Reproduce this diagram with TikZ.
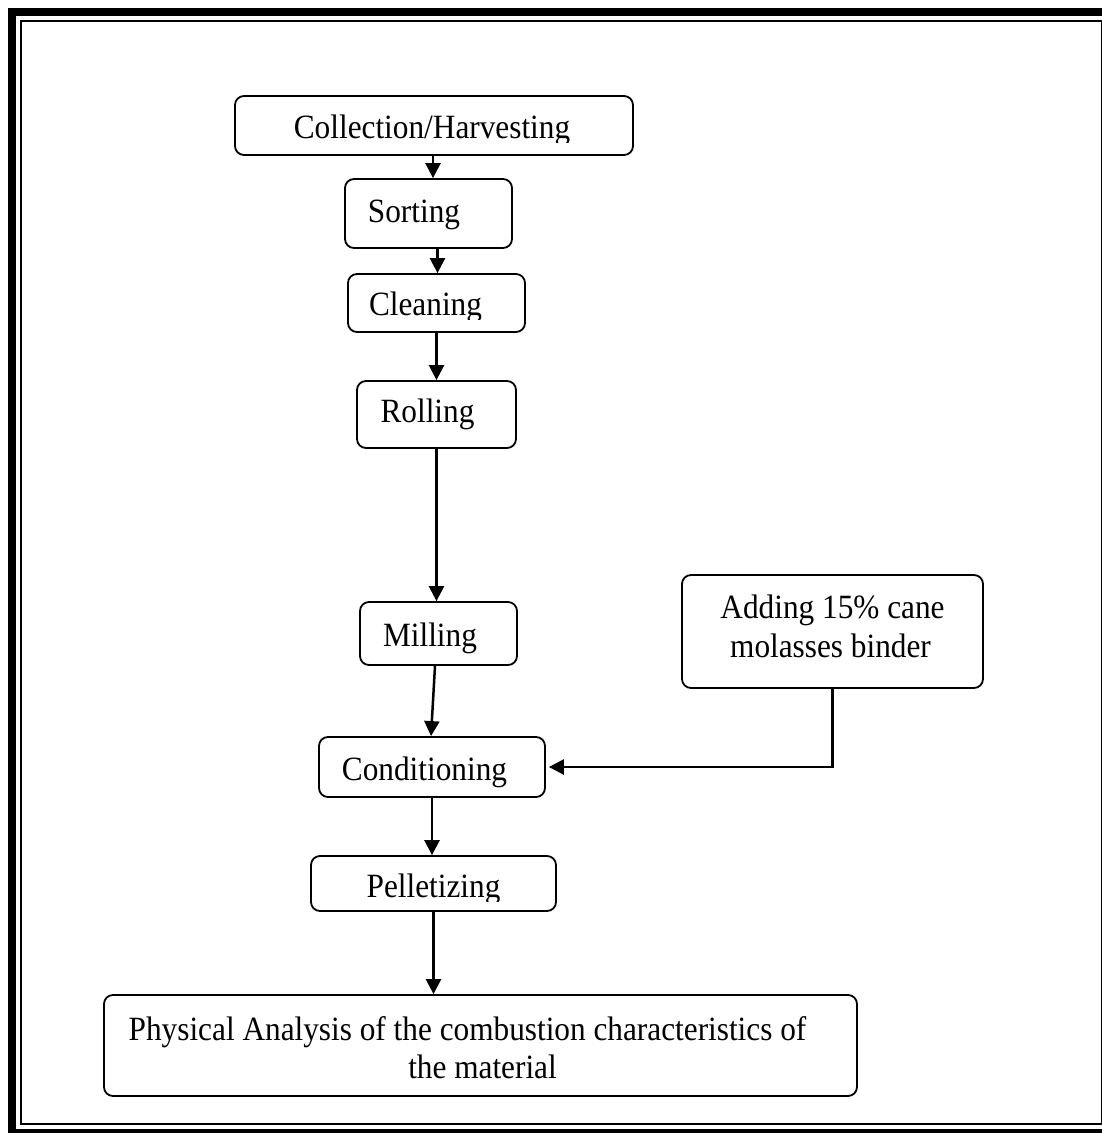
\documentclass[tikz,border=0pt]{standalone}
\usepackage{fontspec}
\setmainfont{Liberation Serif}[FakeStretch=0.92]
\usetikzlibrary{arrows.meta}
\begin{document}
\begin{tikzpicture}[x=1pt,y=-1pt,
  box/.style={draw,line width=1.8pt,rounded corners=9pt,inner sep=0pt},
  txt/.style={inner sep=0pt,anchor=base,font=\fontsize{34}{39}\selectfont},
  arr/.style={line width=2.5pt,-{Triangle[length=15pt,width=15pt]}}]
\useasboundingbox (0,0) rectangle (1102,1133);
% frame
\draw[line width=8pt] (12,12) rectangle (1112,1133);
\draw[line width=2pt] (20.5,20.5) rectangle (1101.5,1124);
% boxes
\node[box,minimum width=398pt,minimum height=59pt] (coll) at (434,125.5) {};
\node[box,minimum width=167pt,minimum height=69pt] (sort) at (428.5,213.5) {};
\node[box,minimum width=177pt,minimum height=58pt] (clean) at (436.5,303) {};
\node[box,minimum width=159pt,minimum height=67pt] (roll) at (436.5,414.5) {};
\node[box,minimum width=157pt,minimum height=63pt] (mill) at (438.5,633.5) {};
\node[box,minimum width=226pt,minimum height=60pt] (cond) at (432,767) {};
\node[box,minimum width=245pt,minimum height=55pt] (pell) at (433.5,883.5) {};
\node[box,minimum width=301pt,minimum height=113pt] (add) at (832.5,631.5) {};
\node[box,minimum width=753pt,minimum height=101pt] (phys) at (480.5,1045.5) {};
% texts
\begin{scope}
\clip (240,100) rectangle (630,142);
\node[txt] (tcoll) at (432,138) {Collection/Harvesting};
\end{scope}
\node[txt] (tsort) at (414,222) {Sorting};
\begin{scope}
\clip (352,278) rectangle (520,319);
\node[txt] (tclean) at (425.5,315) {Cleaning};
\end{scope}
\node[txt] (troll) at (427.5,422) {Rolling};
\node[txt] (tmill) at (430,646) {Milling};
\node[txt] (tcond) at (424.5,780) {Conditioning};
\begin{scope}
\clip (315,860) rectangle (552,901);
\node[txt] (tpell) at (433.5,897) {Pelletizing};
\end{scope}
\node[txt] (tadd1) at (832.5,618) {Adding 15\% cane};
\node[txt] (tadd2) at (830.5,657) {molasses binder};
\node[txt] (tphys1) at (467.5,1040) {Physical Analysis of the combustion characteristics of};
\node[txt] (tphys2) at (482.5,1078) {the material};
% connectors
\draw[arr] ([xshift=-1pt]coll.south) -- ([xshift=-1pt]coll.south |- sort.north);
\draw[arr] ([xshift=9pt]sort.south) -- ([xshift=9pt]sort.south |- clean.north);
\draw[arr] (clean.south) -- (clean.south |- roll.north);
\draw[arr] (roll.south) -- (roll.south |- mill.north);
\draw[arr] ([xshift=-3.5pt]mill.south) -- ([xshift=-1pt]cond.north);
\draw[arr] (cond.south) -- (cond.south |- pell.north);
\draw[arr] (pell.south) -- (pell.south |- phys.north);
\draw[arr,shorten >=3pt] (add.south) |- (cond.east);
\end{tikzpicture}
\end{document}
